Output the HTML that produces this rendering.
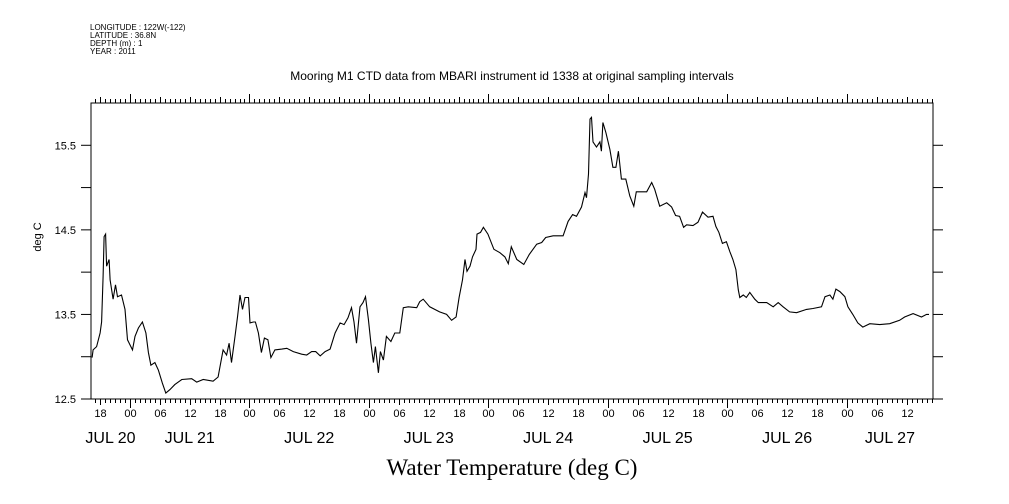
<!DOCTYPE html>
<html><head><meta charset="utf-8"><style>
html,body{margin:0;padding:0;background:#fff;}
svg{display:block;font-family:"Liberation Sans",sans-serif;}
</style></head><body>
<svg id="chart" width="1009" height="504" viewBox="0 0 1009 504">
<g font-size="8" fill="#000">
<text x="90" y="30">LONGITUDE : 122W(-122)</text>
<text x="90" y="38">LATITUDE : 36.8N</text>
<text x="90" y="46">DEPTH (m) : 1</text>
<text x="90" y="54">YEAR : 2011</text>
</g>
<text x="512" y="80" text-anchor="middle" font-size="12">Mooring M1 CTD data from MBARI instrument id 1338 at original sampling intervals</text>
<text x="512" y="475" text-anchor="middle" font-size="23" font-family="Liberation Serif, serif">Water Temperature (deg C)</text>
<text transform="translate(41,237) rotate(-90)" text-anchor="middle" font-size="11">deg C</text>
<rect x="91" y="103" width="842" height="296" fill="none" stroke="#000" stroke-width="1"/>
<g id="axes"></g>
<g id="series"></g>
</svg>
<script>
const hours = [-7.6,-7.4,-6.7,-6.0,-5.7,-5.4,-5.2,-4.9,-4.7,-4.2,-4.0,-3.4,-2.9,-2.5,-1.7,-1.0,-0.5,0,0.5,1.0,1.7,2.5,3.2,3.7,4.2,5.0,5.7,6.5,7.2,8.0,9.0,10.4,12.4,13.4,14.7,16.7,17.7,18.7,19.4,19.9,20.4,21.1,21.6,22.1,22.6,23.1,23.8,24.1,24.8,25.2,25.8,26.4,27.0,27.7,28.3,29.1,30.5,31.5,32.8,34.5,35.5,36.5,37.3,38.2,39.2,40.2,41.2,42.2,43.0,43.8,44.5,45.0,45.5,46.2,46.8,47.3,47.9,48.4,48.9,49.3,49.9,50.3,50.9,51.5,52.4,53.2,54.2,54.9,55.9,57.6,58.2,58.9,60.2,62.2,63.6,64.6,65.5,66.1,66.8,67.3,67.7,68.3,68.8,69.5,69.7,70.4,71.0,71.9,73.1,74.3,75.3,76.0,76.6,77.7,79.1,80.2,81.7,82.7,83.5,85.0,87.0,88.0,88.9,89.7,90.7,91.4,91.7,92.1,92.4,92.7,93.0,93.7,94.4,94.7,95.0,95.6,96.4,97.0,97.6,98.1,98.7,99.6,100.4,101.2,101.7,102.8,103.8,104.8,105.4,106.4,107.8,108.8,109.6,110.4,111.2,111.8,113.1,114.1,115.0,116.1,117.1,117.7,118.3,119.0,119.8,120.5,121.1,121.7,122.2,122.5,123.2,123.8,124.5,125.5,126.2,127.9,129.2,130.2,131.2,132.5,133.9,135.9,137.2,138.9,139.6,140.6,141.2,141.8,142.6,143.6,144.2,145.2,146.2,147.2,148.6,150.6,152.6,154.6,155.6,157.3,159.0,160.0,160.5];
const temps = [12.99,13.08,13.12,13.28,13.41,13.95,14.42,14.45,14.07,14.15,13.91,13.68,13.85,13.71,13.73,13.56,13.20,13.14,13.08,13.24,13.34,13.41,13.28,13.05,12.90,12.93,12.84,12.69,12.57,12.61,12.67,12.73,12.74,12.70,12.73,12.71,12.76,13.08,13.02,13.16,12.93,13.24,13.47,13.73,13.56,13.70,13.70,13.40,13.41,13.41,13.28,13.05,13.22,13.20,12.99,13.08,13.09,13.10,13.06,13.03,13.02,13.06,13.06,13.01,13.06,13.09,13.28,13.40,13.38,13.46,13.58,13.41,13.16,13.59,13.64,13.71,13.44,13.16,12.93,13.12,12.81,13.06,12.96,13.24,13.18,13.28,13.28,13.58,13.59,13.58,13.65,13.68,13.59,13.53,13.50,13.43,13.47,13.70,13.91,14.15,14.01,14.07,14.18,14.27,14.45,14.47,14.53,14.45,14.27,14.23,14.18,14.10,14.30,14.15,14.09,14.21,14.33,14.35,14.41,14.43,14.43,14.60,14.68,14.66,14.77,14.94,14.88,15.16,15.81,15.83,15.54,15.48,15.54,15.43,15.77,15.65,15.45,15.24,15.24,15.43,15.10,15.10,14.90,14.78,14.95,14.95,14.95,15.06,14.98,14.78,14.82,14.77,14.67,14.66,14.53,14.56,14.55,14.59,14.71,14.65,14.66,14.54,14.47,14.34,14.36,14.24,14.15,14.03,13.79,13.70,13.73,13.70,13.76,13.68,13.64,13.64,13.59,13.64,13.59,13.53,13.52,13.56,13.57,13.59,13.71,13.73,13.68,13.80,13.77,13.71,13.59,13.50,13.40,13.35,13.39,13.38,13.39,13.43,13.47,13.51,13.47,13.50,13.50];
const yTickValues = [12.5,13.0,13.5,14.0,14.5,15.0,15.5];
const yTickLabels = ["12.5","","13.5","","14.5","","15.5"];
const hourLabels = ["00","06","12","18"];
const dayLabels = ["JUL 20","JUL 21","JUL 22","JUL 23","JUL 24","JUL 25","JUL 26","JUL 27"];

const NS="http://www.w3.org/2000/svg";
const L=91,R=933,T=103,B=399;
const hMin=-7.83,hMax=161.3,tMin=12.5,tMax=16.0;
const xS=h=>L+(h-hMin)/(hMax-hMin)*(R-L);
const yS=v=>B-(v-tMin)/(tMax-tMin)*(B-T);
const axes=document.getElementById('axes');
function mk(tag,attrs,parent){const e=document.createElementNS(NS,tag);for(const k in attrs)e.setAttribute(k,attrs[k]);parent.appendChild(e);return e;}
// y ticks
yTickValues.forEach((v,i)=>{
  const y=yS(v);
  const t1=mk('line',{x1:81,x2:L,y1:y,y2:y,stroke:'#000'},axes);
  
  
  const t2=mk('line',{x1:R,x2:943,y1:y,y2:y,stroke:'#000'},axes);
  
  
  if(yTickLabels[i]){
    const tx=mk('text',{x:76,y:y+4,'text-anchor':'end','font-size':11},axes);
    tx.textContent=yTickLabels[i];
    
    
  }
});
// x ticks
for(let h=Math.ceil(hMin);h<=hMax;h++){
  const x=Math.round(xS(h))+0.5;
  const hh=((h%24)+24)%24;
  const len=hh===0?9:(hh%6===0?6:4);
  const b=mk('line',{x1:x,x2:x,y1:B,y2:B+len,stroke:'#000'},axes);
  
  
  const t=mk('line',{x1:x,x2:x,y1:T,y2:T-len,stroke:'#000'},axes);
  
  
  if(hh%6===0){
    const tx=mk('text',{x:x,y:417,'text-anchor':'middle','font-size':11},axes);
    tx.textContent=hourLabels[hh/6];
    
    
  }
}
// day labels centred on visible part of each day
dayLabels.forEach((d,i)=>{
  const s=Math.max(hMin,(i-1)*24),e=Math.min(hMax,i*24);
  const tx=mk('text',{x:(xS(s)+xS(e))/2,y:443,'text-anchor':'middle','font-size':16},axes);
  tx.textContent=d;
  
  
});
// series
const pts=hours.map((h,i)=>xS(h).toFixed(1)+','+yS(temps[i]).toFixed(1)).join(' ');
const pl=mk('polyline',{points:pts,fill:'none',stroke:'#000','stroke-width':1.1},document.getElementById('series'));


</script>
</body></html>
